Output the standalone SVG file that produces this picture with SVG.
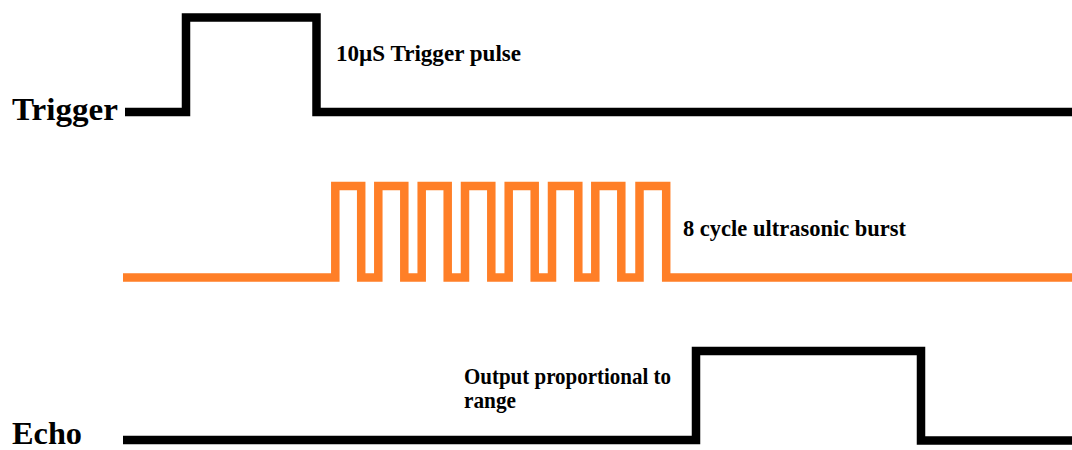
<svg xmlns="http://www.w3.org/2000/svg" width="1072" height="450" viewBox="0 0 1072 450">
<style>
.sig{fill:none;stroke-width:8.5;stroke-linejoin:miter;stroke-linecap:butt}
.blk{stroke:#000}
.org{stroke:#FF7F27}
.lbl{font-family:"Liberation Serif","Times New Roman",serif;font-weight:bold;fill:#000}
.big{font-size:32px}
.sm{font-size:23px}
</style>
<rect width="1072" height="450" fill="#fff"/>
<g id="connectors">
<path id="trigger-wave" class="sig blk" d="M125,112 H186 V17.5 H316.5 V112 H1072"/>
<path id="burst-wave" class="sig org" d="M123,277.5 H335.3 V186 H361.2 V277.5 H378.3 V186 H404.3 V277.5 H421.7 V186 H447.7 V277.5 H465 V186 H491.3 V277.5 H508.7 V186 H534.7 V277.5 H552 V186 H578.3 V277.5 H595.3 V186 H621.3 V277.5 H639.5 V186 H666.2 V277.5 H1072"/>
<path id="echo-wave" class="sig blk" d="M123,440 H696 V351 H921 V440.5 H1072"/>
</g>
<g id="trigger-label"><text class="lbl big" x="12" y="120" textLength="106" lengthAdjust="spacingAndGlyphs">Trigger</text></g>
<g id="echo-label"><text class="lbl big" x="12" y="444" textLength="70" lengthAdjust="spacingAndGlyphs">Echo</text></g>
<g id="trigger-pulse-label"><text class="lbl sm" x="336" y="61" textLength="185" lengthAdjust="spacingAndGlyphs">10µS Trigger pulse</text></g>
<g id="burst-label"><text class="lbl sm" x="683" y="236" textLength="223" lengthAdjust="spacingAndGlyphs">8 cycle ultrasonic burst</text></g>
<g id="echo-output-label">
<text class="lbl sm" x="464" y="384" textLength="207" lengthAdjust="spacingAndGlyphs">Output proportional to</text>
<text class="lbl sm" x="464" y="408" textLength="52" lengthAdjust="spacingAndGlyphs">range</text>
</g>
</svg>
